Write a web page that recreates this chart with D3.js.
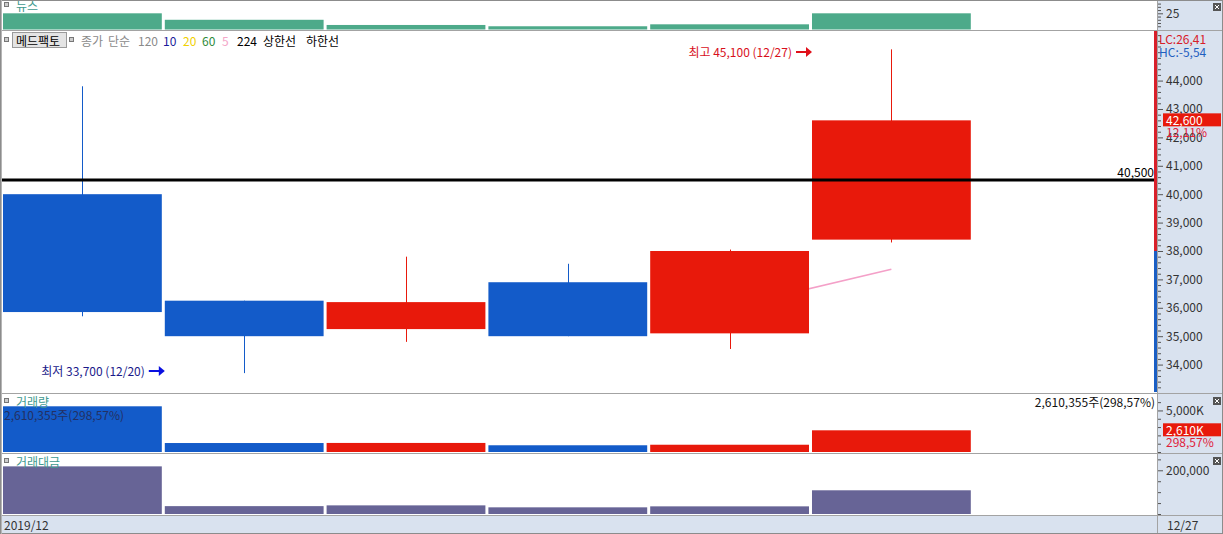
<!DOCTYPE html>
<html><head><meta charset="utf-8">
<script src="https://cdn.jsdelivr.net/npm/d3@7/dist/d3.min.js"></script>
<style>
html,body{margin:0;padding:0;background:#fff;overflow:hidden}
svg text{font-family:"Noto Sans CJK KR","Noto Sans",sans-serif;font-size:12px}
</style></head>
<body><svg id="c" width="1223" height="534"></svg>
<script>
// ---- data ----
const dates = ['12/19','12/20','12/23','12/24','12/26','12/27'];
const openP  = [40000, 36250, 35250, 36900, 35100, 38400];
const highP  = [43800, 36250, 37800, 37550, 38050, 45100];
const lowP   = [35700, 33700, 34800, 35000, 34550, 38300];
const closeP = [35850, 35000, 36200, 35000, 38000, 42600];
const ma5    = [null, null, null, null, 36010, 37360];
const volume = [5500000, 1080000, 1090000, 810000, 874285, 2610355];
const amount = [218000, 36000, 39500, 30500, 35000, 108500];
const news   = [25, 15, 7, 5, 8, 25];
const priceTicks = [34000,35000,36000,37000,38000,39000,40000,41000,42000,43000,44000];
const volTicks = [5000000];
const amtTicks = [200000];
const newsTicks = [25];
const refLine = 40500;
const prevClose = 38000;
const legendItems = [
  {t:'종가', c:'#8a8a8a'}, {t:'단순', c:'#8a8a8a'}, {t:'120', c:'#8a8a8a'},
  {t:'10', c:'#1a1a9a'}, {t:'20', c:'#f0d000'}, {t:'60', c:'#2e8b3a'},
  {t:'5', c:'#f4a6c8'}, {t:'224', c:'#000'}, {t:'상한선', c:'#000'}, {t:'하한선', c:'#000'}
];

const W = 1223, H = 534;
const plotL = 2, plotR = 1157;
const RED = '#e8190b', BLUE = '#135bc9', AXBG = '#d9e2ef', SEP = '#a3a3a3';
const svg = d3.select('#c');

// ---- scales ----
const x = d3.scaleBand().domain(dates).range([3, 970.8]).paddingInner(0.0185).paddingOuter(0);
const cx = d => x(d) + x.bandwidth()/2;
const yN = d3.scaleLinear().domain([0, 44]).range([29.5, 1]);
const yP = d3.scaleLinear().domain([33035, 45746]).range([392, 31]);
const yV = d3.scaleLinear().domain([0, 6980000]).range([452, 394]);
const yA = d3.scaleLinear().domain([0, 270000]).range([514, 455]);

// ---- backgrounds ----
svg.append('rect').attr('x',0).attr('y',0).attr('width',W).attr('height',H).attr('fill','#fff');
svg.append('rect').attr('x',plotR).attr('y',0).attr('width',W-plotR).attr('height',H).attr('fill',AXBG);
svg.append('rect').attr('x',0).attr('y',515).attr('width',W).attr('height',H-515).attr('fill',AXBG);

// ---- news panel ----
svg.append('g').selectAll('rect').data(dates).join('rect')
  .attr('x', d=>x(d)).attr('width', x.bandwidth())
  .attr('y', (d,i)=>yN(news[i])).attr('height',(d,i)=>yN(0)-yN(news[i]))
  .attr('fill','#4daa8a');

// ---- main price panel ----
// MA5 line
const maLine = d3.line().defined(d=>d.v!=null).x(d=>cx(d.d)).y(d=>yP(d.v));
svg.append('path').datum(dates.map((d,i)=>({d, v:ma5[i]})))
  .attr('d', maLine).attr('fill','none').attr('stroke','#f4a0c8').attr('stroke-width',1.6);

const candles = svg.append('g').selectAll('g').data(dates).join('g');
candles.append('line')
  .attr('x1', d=>Math.round(cx(d))+0.5).attr('x2', d=>Math.round(cx(d))+0.5)
  .attr('y1',(d,i)=>yP(highP[i])).attr('y2',(d,i)=>yP(lowP[i]))
  .attr('stroke',(d,i)=> closeP[i]>=openP[i] ? RED : BLUE).attr('stroke-width',1);
candles.append('rect')
  .attr('x', d=>x(d)).attr('width', x.bandwidth())
  .attr('y',(d,i)=>yP(Math.max(openP[i],closeP[i])))
  .attr('height',(d,i)=>Math.abs(yP(openP[i])-yP(closeP[i])))
  .attr('fill',(d,i)=> closeP[i]>=openP[i] ? RED : BLUE);

// reference line 40,500
svg.append('line').attr('x1',plotL).attr('x2',plotR-2).attr('y1',yP(refLine)).attr('y2',yP(refLine))
  .attr('stroke','#000').attr('stroke-width',3);
svg.append('text').attr('x',plotR-3).attr('y',yP(refLine)-8).attr('text-anchor','end')
  .attr('dominant-baseline','central').attr('fill','#000').text(d3.format(',')(refLine));

// high / low annotations
const hiIdx = highP.indexOf(d3.max(highP));
const loIdx = lowP.indexOf(d3.min(lowP));
function annot(idx, val, y, color, arrowColor){
  const tip = x(dates[idx]);
  const g = svg.append('g');
  g.append('text').attr('x', tip-20).attr('y', y).attr('text-anchor','end')
   .attr('dominant-baseline','central').attr('fill',color)
   .text((val===highP[hiIdx] && idx===hiIdx ? '최고 ' : '최저 ') + d3.format(',')(val) + ' (' + dates[idx] + ')');
  g.append('line').attr('x1',tip-16).attr('x2',tip-5).attr('y1',y+1).attr('y2',y+1)
   .attr('stroke',arrowColor).attr('stroke-width',2);
  g.append('path').attr('d',`M${tip-6},${y-4} L${tip},${y+1} L${tip-6},${y+6} Z`).attr('fill',arrowColor);
}
annot(hiIdx, highP[hiIdx], 51, '#d8101c', '#e0101a');
annot(loIdx, lowP[loIdx], 370, '#1a1a8a', '#0a10e0');

// legend row
svg.append('rect').attr('x',4.5).attr('y',37.5).attr('width',4).attr('height',4).attr('fill','#ccc').attr('stroke','#777');
svg.append('rect').attr('x',12.5).attr('y',32.5).attr('width',54).attr('height',15).attr('fill','#e4e4e4').attr('stroke','#9a9a9a');
svg.append('text').attr('x',16).attr('y',40).attr('dominant-baseline','central').attr('fill','#000').text('메드팩토');
svg.append('rect').attr('x',69.5).attr('y',37.5).attr('width',4).attr('height',4).attr('fill','#ccc').attr('stroke','#777');
const legX = [81,108,138,163,183,202,222,237,263,306];
svg.append('g').selectAll('text').data(legendItems).join('text')
  .attr('x',(d,i)=>legX[i]).attr('y',40).attr('dominant-baseline','central')
  .attr('fill',d=>d.c).text(d=>d.t);

// ---- volume panel ----
svg.append('g').selectAll('rect').data(dates).join('rect')
  .attr('x', d=>x(d)).attr('width', x.bandwidth())
  .attr('y',(d,i)=>yV(volume[i])).attr('height',(d,i)=>yV(0)-yV(volume[i]))
  .attr('fill',(d,i)=> closeP[i]>=openP[i] ? RED : BLUE);
const lastVol = volume[volume.length-1], prevVol = volume[volume.length-2];
const volTxt = d3.format(',')(lastVol) + '주(' + d3.format('.2f')(lastVol/prevVol*100).replace('.',',') + '%)';
svg.append('text').attr('x',4).attr('y',414).attr('dominant-baseline','central').attr('fill','#233063').text(volTxt);
svg.append('text').attr('x',plotR-2).attr('y',401).attr('text-anchor','end').attr('dominant-baseline','central').attr('fill','#111').text(volTxt);

// ---- amount panel ----
svg.append('g').selectAll('rect').data(dates).join('rect')
  .attr('x', d=>x(d)).attr('width', x.bandwidth())
  .attr('y',(d,i)=>yA(amount[i])).attr('height',(d,i)=>yA(0)-yA(amount[i]))
  .attr('fill','#676496');

// panel labels
function panelLabel(y, t){
  svg.append('rect').attr('x',4.5).attr('y',y-2.5).attr('width',4).attr('height',4).attr('fill','#ccc').attr('stroke','#777');
  svg.append('text').attr('x',16).attr('y',y).attr('dominant-baseline','central').attr('fill','#3f9a90').text(t);
}
panelLabel(5, '뉴스');
panelLabel(401, '거래량');
panelLabel(461, '거래대금');

// ---- separators & border ----
[30, 393, 453, 515].forEach(yy=>{
  svg.append('line').attr('x1',0).attr('x2',W).attr('y1',yy+0.5).attr('y2',yy+0.5).attr('stroke',SEP).attr('stroke-width',1);
});
svg.append('line').attr('x1',plotR+0.5).attr('x2',plotR+0.5).attr('y1',0).attr('y2',H).attr('stroke',SEP);
svg.append('rect').attr('x',0.5).attr('y',0.5).attr('width',W-1).attr('height',H-1).attr('fill','none').attr('stroke','#8c8c8c');
svg.append('line').attr('x1',1.5).attr('x2',1.5).attr('y1',0).attr('y2',H).attr('stroke','#b5b5b5');

// price indicator bar on right edge of main panel
svg.append('rect').attr('x',plotR-3).attr('y',31).attr('width',3).attr('height',yP(prevClose)-31).attr('fill','#d8202a');
svg.append('rect').attr('x',plotR-3).attr('y',yP(prevClose)).attr('width',3).attr('height',392-yP(prevClose)).attr('fill','#1a5ec4');

// ---- right axes ----
function axis(scale, majors, minorStep, fmt, y0, y1){
  const dom = scale.domain();
  const minors = d3.range(Math.ceil(dom[0]/minorStep)*minorStep, dom[1], minorStep)
    .filter(v=>scale(v)>=y1 && scale(v)<=y0 && !majors.includes(v));
  const gm = svg.append('g').attr('transform',`translate(${plotR+1},0)`)
    .call(d3.axisRight(scale).tickValues(minors).tickSize(3).tickFormat(''));
  gm.select('.domain').remove();
  gm.selectAll('line').attr('stroke','#555');
  const g = svg.append('g').attr('transform',`translate(${plotR+1},0)`)
    .call(d3.axisRight(scale).tickValues(majors).tickSize(5).tickPadding(3).tickFormat(fmt));
  g.select('.domain').remove();
  g.selectAll('line').attr('stroke','#555');
  g.selectAll('text').attr('fill','#333').attr('font-size','12px').attr('dy','0.32em')
    .attr('font-family','"Noto Sans CJK KR","Noto Sans",sans-serif');
}
axis(yN, newsTicks, 5, d3.format('d'), 29, 1);
axis(yP, priceTicks, 200, d3.format(','), 392, 31);
axis(yV, volTicks, 1000000, v=>d3.format(',')(v/1000)+'K', 452, 394);
axis(yA, amtTicks, 50000, d3.format(','), 514, 455);

// LC / HC
svg.append('text').attr('x',1159).attr('y',38).attr('dominant-baseline','central').attr('fill','#d8202a').text('LC:26,41');
svg.append('text').attr('x',1159).attr('y',51).attr('dominant-baseline','central').attr('fill','#1f5fc0').text('HC:-5,54');

// current price box
const lastClose = closeP[closeP.length-1];
const yc = yP(lastClose);
svg.append('rect').attr('x',1163).attr('y',yc-7).attr('width',58).attr('height',13).attr('fill',RED);
svg.append('text').attr('x',1166).attr('y',yc-0.5).attr('dominant-baseline','central').attr('fill','#fff').text(d3.format(',')(lastClose));
svg.append('text').attr('x',1166).attr('y',yc+11).attr('dominant-baseline','central').attr('fill','#e0203a')
  .text(d3.format('.2f')((lastClose/prevClose-1)*100).replace('.',',')+'%');

// current volume box
const yvv = yV(lastVol);
svg.append('rect').attr('x',1163).attr('y',yvv-7).attr('width',58).attr('height',13).attr('fill',RED);
svg.append('text').attr('x',1166).attr('y',yvv-0.5).attr('dominant-baseline','central').attr('fill','#fff').text(d3.format(',')(Math.round(lastVol/1000))+'K');
svg.append('text').attr('x',1166).attr('y',yvv+11).attr('dominant-baseline','central').attr('fill','#e0203a')
  .text(d3.format('.2f')(lastVol/prevVol*100).replace('.',',')+'%');

// close buttons
[7, 401, 461].forEach(yy=>{
  const g = svg.append('g');
  g.append('rect').attr('x',1213).attr('y',yy-4).attr('width',8).attr('height',8).attr('fill','#555');
  g.append('path').attr('d',`M${1215},${yy-2} L${1219},${yy+2} M${1219},${yy-2} L${1215},${yy+2}`).attr('stroke','#fff').attr('stroke-width',1);
});

// date axis
svg.append('text').attr('x',4).attr('y',524).attr('dominant-baseline','central').attr('fill','#333').text('2019/12');
svg.append('text').attr('x',1167).attr('y',524).attr('dominant-baseline','central').attr('fill','#333').text(dates[dates.length-1]);
</script></body></html>
